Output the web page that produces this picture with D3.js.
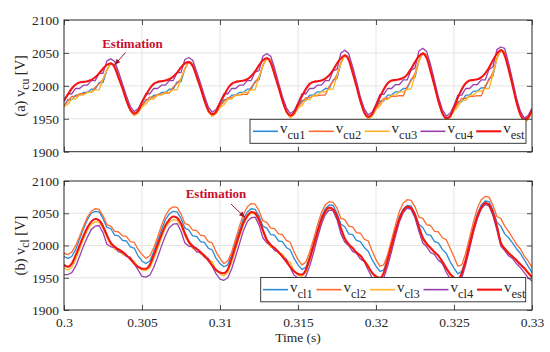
<!DOCTYPE html>
<html>
<head>
<meta charset="utf-8">
<script src="https://cdn.jsdelivr.net/npm/d3@7"></script>
<style>
  body { margin: 0; background: #fff; }
  svg { display: block; }
  text { font-family: "Liberation Serif", "Times New Roman", serif; fill: #262626; }
</style>
</head>
<body>
<svg id="chart" width="550" height="352"></svg>
<script>
// samples start at 0.3 s, one every 0.25 ms (121 samples up to 0.33 s)
const T0 = 0.3, DT = 0.00025;
const xTicks = [0.3, 0.305, 0.31, 0.315, 0.32, 0.325, 0.33];
const yTicks = [1900, 1950, 2000, 2050, 2100];

// upper arm capacitor voltages (a)
const vCu1 = [
  1970,1979,1979,1986,1986,1990,1990,1995,1995,2005,2005,2024,2035,2032,2016,1998,1979,1963,1956,1960,
  1970,1979,1979,1986,1986,1990,1990,1995,1995,2006,2006,2026,2037,2034,2017,1999,1979,1962,1955,1959,
  1969,1979,1979,1986,1986,1990,1990,1995,1995,2007,2009,2031,2043,2040,2022,2000,1978,1961,1953,1957,
  1968,1978,1978,1986,1986,1991,1991,1996,1996,2009,2011,2035,2047,2044,2024,2002,1977,1959,1951,1955,
  1966,1977,1977,1986,1986,1991,1991,1996,1996,2010,2013,2038,2050,2047,2026,2003,1977,1958,1949,1953,
  1964,1976,1976,1986,1986,1992,1992,1997,1997,2011,2015,2042,2055,2052,2030,2004,1976,1956,1946,1950,
  1962];
const vCu2 = [
  1970,1977,1984,1984,1988,1988,1990,1990,1998,2003,2010,2024,2034,2031,2015,1997,1978,1962,1955,1959,
  1970,1977,1983,1983,1987,1987,1989,1989,1998,2004,2011,2026,2036,2033,2016,1998,1978,1961,1954,1958,
  1969,1976,1982,1982,1986,1986,1987,1987,1998,2005,2014,2031,2042,2039,2021,1999,1977,1960,1952,1956,
  1968,1975,1982,1982,1985,1985,1986,1986,1999,2007,2017,2035,2046,2043,2023,2001,1976,1958,1950,1954,
  1966,1974,1981,1981,1984,1984,1985,1985,1999,2008,2019,2038,2050,2046,2025,2002,1976,1957,1948,1952,
  1964,1973,1981,1981,1984,1984,1985,1985,2000,2009,2021,2042,2054,2051,2029,2003,1975,1955,1945,1949,
  1961];
const vCu3 = [
  1968,1972,1980,1980,1986,1986,1990,1990,1994,1994,2010,2024,2035,2031,2015,1997,1978,1962,1955,1959,
  1968,1972,1980,1980,1986,1986,1990,1990,1994,1994,2011,2026,2037,2033,2016,1998,1978,1961,1954,1958,
  1967,1971,1980,1980,1986,1986,1990,1990,1994,1994,2013,2030,2043,2039,2021,1999,1977,1960,1952,1956,
  1966,1970,1979,1979,1986,1986,1991,1991,1995,1995,2015,2034,2047,2043,2023,2001,1976,1958,1950,1954,
  1964,1969,1979,1979,1986,1986,1991,1991,1995,1995,2016,2037,2050,2046,2025,2002,1976,1957,1948,1952,
  1962,1968,1978,1978,1986,1986,1992,1992,1996,1996,2018,2041,2055,2051,2029,2003,1975,1955,1945,1949,
  1960];
const vCu4 = [
  1976,1988,1988,1996,1996,2001,2001,2008,2008,2019,2019,2038,2041,2037,2021,2003,1985,1969,1961,1965,
  1976,1988,1988,1996,1996,2001,2001,2008,2008,2020,2020,2040,2043,2039,2022,2004,1985,1968,1960,1964,
  1975,1988,1988,1996,1996,2001,2001,2008,2008,2021,2023,2045,2049,2045,2027,2005,1984,1967,1958,1962,
  1974,1988,1988,1996,1996,2001,2001,2008,2008,2023,2025,2050,2054,2049,2029,2007,1983,1965,1956,1960,
  1972,1987,1987,1996,1996,2002,2002,2009,2009,2024,2027,2053,2057,2052,2032,2008,1983,1964,1954,1958,
  1970,1986,1986,1996,1996,2002,2002,2009,2009,2025,2029,2055,2059,2057,2035,2009,1982,1962,1951,1955,
  1966];
const vEstU = [
  1978,1987,1996,2002,2005,2006,2007,2009,2013,2019,2026,2032,2034,2028,2012,1996,1978,1964,1958,1962,
  1975,1986,1996,2003,2006,2007,2008,2010,2014,2020,2028,2034,2036,2030,2014,1997,1978,1963,1957,1961,
  1974,1985,1996,2003,2006,2007,2008,2010,2015,2022,2031,2039,2042,2035,2017,1998,1978,1962,1955,1959,
  1972,1984,1995,2003,2006,2007,2008,2011,2016,2024,2034,2042,2046,2039,2020,1999,1977,1960,1953,1957,
  1970,1983,1995,2004,2008,2009,2010,2012,2017,2026,2036,2045,2049,2042,2022,2000,1977,1959,1951,1954,
  1967,1982,1995,2004,2008,2009,2010,2013,2019,2028,2039,2049,2054,2046,2025,2001,1976,1957,1949,1952,
  1964];

// lower arm capacitor voltages (b)
const vCl1 = [
  1983,1980,1983,1994,2010,2026,2040,2050,2053,2052,2042,2028,2026,2016,2015,2008,2007,1998,1996,1984,
  1976,1972,1976,1990,2007,2024,2040,2049,2053,2052,2042,2027,2024,2015,2014,2006,2005,1996,1993,1980,
  1972,1967,1970,1985,2004,2023,2041,2052,2057,2056,2046,2030,2027,2017,2016,2007,2006,1997,1993,1980,
  1970,1963,1966,1982,2003,2024,2044,2057,2063,2062,2050,2033,2029,2018,2017,2008,2006,1997,1991,1978,
  1968,1960,1962,1980,2003,2025,2045,2057,2062,2061,2050,2033,2028,2017,2016,2006,2004,1994,1988,1975,
  1965,1956,1960,1978,2003,2028,2049,2063,2069,2068,2055,2036,2030,2018,2012,2004,1995,1988,1978,1968,
  1958];
const vCl2 = [
  1988,1986,1990,2000,2014,2030,2044,2053,2057,2056,2046,2032,2030,2022,2021,2015,2014,2006,2005,1994,
  1986,1980,1984,1996,2013,2031,2046,2056,2060,2059,2049,2034,2032,2024,2023,2016,2015,2006,2004,1990,
  1980,1972,1976,1990,2010,2030,2048,2060,2065,2064,2054,2038,2036,2027,2026,2018,2017,2008,2005,1990,
  1978,1970,1974,1990,2010,2032,2051,2063,2068,2067,2058,2042,2040,2030,2029,2020,2019,2010,2007,1992,
  1978,1968,1970,1986,2009,2032,2053,2066,2071,2070,2060,2044,2042,2032,2031,2022,2021,2012,2009,1996,
  1982,1968,1970,1988,2012,2037,2058,2071,2076,2075,2062,2045,2042,2030,2022,2012,2002,1995,1984,1976,
  1966];
const vCl3 = [
  1965,1962,1966,1978,1994,2010,2024,2033,2037,2036,2027,2012,2001,1994,1993,1986,1985,1978,1976,1966,
  1962,1961,1965,1979,1995,2012,2027,2036,2040,2039,2030,2015,2003,1995,1994,1987,1986,1978,1975,1962,
  1956,1953,1958,1974,1994,2014,2032,2044,2050,2049,2038,2021,2006,1997,1996,1988,1987,1978,1974,1960,
  1954,1952,1958,1976,1996,2018,2037,2051,2058,2056,2044,2025,2008,1999,1997,1988,1986,1977,1970,1956,
  1950,1948,1955,1975,1997,2020,2040,2053,2059,2058,2046,2027,2009,2000,1997,1988,1985,1975,1966,1954,
  1948,1946,1954,1975,1999,2024,2045,2059,2066,2064,2051,2031,2005,1996,1990,1983,1978,1970,1964,1956,
  1950];
const vCl4 = [
  1955,1955,1958,1968,1983,1999,2013,2025,2030,2031,2020,2002,1998,1997,1990,1989,1983,1982,1972,1962,
  1952,1951,1954,1966,1982,1999,2015,2028,2033,2034,2022,2004,1999,1998,1990,1989,1982,1980,1968,1956,
  1948,1946,1950,1964,1983,2003,2023,2037,2043,2044,2032,2012,2004,2001,1992,1990,1982,1979,1966,1954,
  1950,1948,1952,1968,1989,2012,2033,2048,2055,2054,2040,2018,2005,2000,1991,1988,1979,1975,1962,1950,
  1946,1945,1950,1968,1991,2015,2037,2051,2058,2056,2043,2022,2004,1998,1989,1986,1977,1972,1959,1948,
  1944,1943,1950,1970,1995,2021,2042,2057,2064,2061,2046,2024,1999,1992,1984,1980,1972,1966,1958,1950,
  1945];
const vEstL = [
  1970,1967,1972,1985,2000,2015,2028,2037,2041,2039,2030,2016,2004,1998,1994,1990,1985,1979,1972,1967,
  1964,1964,1970,1985,2001,2017,2031,2040,2045,2043,2034,2019,2006,1999,1995,1990,1984,1977,1969,1962,
  1958,1957,1963,1980,1999,2018,2035,2046,2052,2050,2040,2024,2009,2001,1996,1990,1983,1975,1967,1960,
  1956,1955,1962,1980,2000,2021,2040,2053,2059,2056,2045,2027,2011,2002,1996,1989,1984,1976,1967,1958,
  1952,1950,1958,1978,2000,2022,2041,2054,2060,2058,2047,2029,2012,2003,1996,1990,1984,1975,1965,1956,
  1950,1948,1957,1977,2001,2025,2045,2059,2066,2063,2050,2030,2004,1995,1988,1983,1977,1971,1965,1958,
  1951];

const colors = ['#2a8bd6', '#ff6a2c', '#ffb322', '#9a3fb0', '#f51414'];
const subsTop = ['cu1', 'cu2', 'cu3', 'cu4', 'est'];
const subsBot = ['cl1', 'cl2', 'cl3', 'cl4', 'est'];

const svg = d3.select('#chart');
const x = d3.scaleLinear().domain([0.3, 0.33]).range([64, 532]);
const FS = 13.5;

function drawPanel(id, top, bottom, series, est, subs, label, showX, legendBox, legendX0, legendStep, note) {
  const y = d3.scaleLinear().domain([1900, 2100]).range([bottom, top]);
  const g = svg.append('g');

  // grid
  g.selectAll('.gx').data(xTicks.slice(1, -1)).join('line')
    .attr('x1', d => x(d)).attr('x2', d => x(d)).attr('y1', top).attr('y2', bottom)
    .attr('stroke', '#dedede').attr('stroke-width', 0.8);
  g.selectAll('.gy').data(yTicks.slice(1, -1)).join('line')
    .attr('x1', x.range()[0]).attr('x2', x.range()[1]).attr('y1', d => y(d)).attr('y2', d => y(d))
    .attr('stroke', '#dedede').attr('stroke-width', 0.8);

  // lines
  svg.append('clipPath').attr('id', id).append('rect')
    .attr('x', 64).attr('y', top).attr('width', 468).attr('height', bottom - top);
  const lines = g.append('g').attr('clip-path', `url(#${id})`);
  const stepLine = d3.line().x((d, i) => x(T0 + i * DT)).y(d => y(d));
  const smoothLine = d3.line().x((d, i) => x(T0 + i * DT)).y(d => y(d)).curve(d3.curveMonotoneX);
  series.forEach((s, k) => {
    lines.append('path').attr('d', stepLine(s)).attr('fill', 'none')
      .attr('stroke', colors[k]).attr('stroke-width', 1.3).attr('stroke-linejoin', 'round');
  });
  lines.append('path').attr('d', smoothLine(est)).attr('fill', 'none')
    .attr('stroke', colors[4]).attr('stroke-width', 2.1);

  // axes (ticks inside, box on)
  const ax = g.append('g').attr('transform', `translate(0,${bottom})`)
    .call(d3.axisBottom(x).tickValues(xTicks).tickSize(-5).tickPadding(7)
      .tickFormat(showX ? (d => String(+d.toFixed(3))) : ''));
  const axT = g.append('g').attr('transform', `translate(0,${top})`)
    .call(d3.axisTop(x).tickValues(xTicks).tickSize(-5).tickFormat(''));
  const ay = g.append('g').attr('transform', 'translate(64,0)')
    .call(d3.axisLeft(y).tickValues(yTicks).tickSize(-5).tickPadding(5).tickFormat(d3.format('d')));
  const ayR = g.append('g').attr('transform', 'translate(532,0)')
    .call(d3.axisRight(y).tickValues(yTicks).tickSize(-5).tickFormat(''));
  [ax, axT, ay, ayR].forEach(a => {
    a.select('.domain').remove();
    a.selectAll('line').attr('stroke', '#262626').attr('stroke-width', 0.8);
    a.selectAll('text').attr('font-size', FS).style('fill', '#262626')
      .attr('font-family', '"Liberation Serif", serif');
  });
  g.append('rect').attr('x', 64).attr('y', top).attr('width', 468).attr('height', bottom - top)
    .attr('fill', 'none').attr('stroke', '#262626').attr('stroke-width', 1);

  // y label
  const cy = (top + bottom) / 2;
  const yl = g.append('text').attr('transform', `translate(25,${cy}) rotate(-90)`)
    .attr('text-anchor', 'middle').attr('font-size', 14.5);
  yl.append('tspan').text(label[0]);
  yl.append('tspan').attr('font-size', 11.5).attr('dy', 4).text(label[1]);
  yl.append('tspan').attr('dy', -4).text(label[2]);

  // legend
  const [lx, ly, lw, lh] = legendBox;
  g.append('rect').attr('x', lx).attr('y', ly).attr('width', lw).attr('height', lh)
    .attr('fill', '#fff').attr('stroke', '#262626').attr('stroke-width', 0.9);
  subs.forEach((s, k) => {
    const x0 = legendX0 + k * legendStep;
    const my = ly + lh / 2;
    g.append('line').attr('x1', x0).attr('x2', x0 + 25).attr('y1', my).attr('y2', my)
      .attr('stroke', colors[k]).attr('stroke-width', k === 4 ? 2.1 : 1.6);
    const t = g.append('text').attr('x', x0 + 27).attr('y', my + 2).attr('font-size', 15);
    t.append('tspan').text('v');
    t.append('tspan').attr('font-size', 12.5).attr('dy', 6).text(s);
  });

  // estimation note
  g.append('text').attr('x', note.tx).attr('y', note.ty).attr('text-anchor', 'middle')
    .attr('font-size', 13).attr('font-weight', 'bold').style('fill', '#c8102e').text('Estimation');
  const [x1, y1, x2, y2] = note.arrow;
  g.append('line').attr('x1', x1).attr('y1', y1).attr('x2', x2).attr('y2', y2)
    .attr('stroke', '#9e1a30').attr('stroke-width', 1);
  const ang = Math.atan2(y2 - y1, x2 - x1);
  const hl = 6, hw = 2.5;
  const bx = x2 - hl * Math.cos(ang), by = y2 - hl * Math.sin(ang);
  g.append('path')
    .attr('d', `M${x2},${y2}L${bx - hw * Math.sin(ang)},${by + hw * Math.cos(ang)}L${bx + hw * Math.sin(ang)},${by - hw * Math.cos(ang)}Z`)
    .attr('fill', '#9e1a30');
}

drawPanel('clipA', 20, 151.7, [vCu1, vCu2, vCu3, vCu4], vEstU, subsTop, ['(a) v', 'cu', ' [V]'],
  false, [250, 119.3, 276, 24], 253, 55.8,
  { tx: 132.5, ty: 48, arrow: [125.5, 52.5, 114.5, 65] });
drawPanel('clipB', 181, 310, [vCl1, vCl2, vCl3, vCl4], vEstL, subsBot, ['(b) v', 'cl', ' [V]'],
  true, [260.7, 277.5, 265, 24.3], 263, 53.5,
  { tx: 216, ty: 197.5, arrow: [231, 204, 245, 217.5] });

svg.append('text').attr('x', 298).attr('y', 342).attr('text-anchor', 'middle')
  .attr('font-size', FS).text('Time (s)');
</script>
</body>
</html>
